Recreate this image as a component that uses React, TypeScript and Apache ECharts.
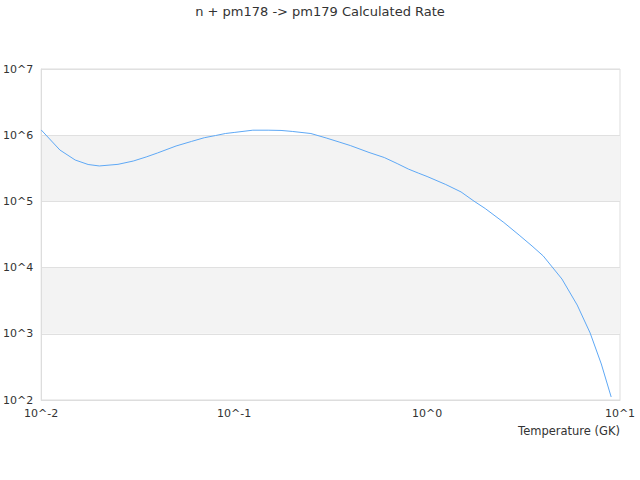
import React, { useEffect, useRef } from "react";
import * as echarts from "echarts";

const titleText = "n + pm178 -> pm179 Calculated Rate";
const xAxisName = "Temperature (GK)";
const temperatures = [
  0.01, 0.0125, 0.015, 0.0175, 0.02, 0.025, 0.03, 0.035, 0.04, 0.05, 0.06, 0.07, 0.08, 0.09,
  0.1, 0.125, 0.15, 0.175, 0.2, 0.25, 0.3, 0.35, 0.4, 0.5, 0.6, 0.7, 0.8, 0.9,
  1, 1.25, 1.5, 1.75, 2, 2.5, 3, 3.5, 4, 5, 6, 7, 8, 9,
];
const rates = [
  1.2e6, 5.97e5, 4.22e5, 3.61e5, 3.43e5, 3.63e5, 4.07e5, 4.69e5, 5.38e5, 6.87e5, 8.04e5, 9.16e5, 9.88e5, 1.06e6,
  1.1e6, 1.19e6, 1.19e6, 1.18e6, 1.14e6, 1.06e6, 9.08e5, 7.89e5, 6.98e5, 5.49e5, 4.6e5, 3.73e5, 3.08e5, 2.68e5,
  2.38e5, 1.8e5, 1.39e5, 1.01e5, 7.82e4, 4.8e4, 3.1e4, 2.12e4, 1.5e4, 6.73e3, 2.72e3, 1.03e3, 350, 111,
];

export default function App() {
  const ref = useRef<HTMLDivElement>(null);
  useEffect(() => {
    if (!ref.current) return;
    const chart = echarts.init(ref.current, null, { renderer: "svg" });
    const expFmt = (v: number) => "10^" + Math.round(Math.log10(v));
    chart.setOption({
      animation: false,
      backgroundColor: "#ffffff",
      textStyle: { fontFamily: "DejaVu Sans" },
      title: {
        text: titleText,
        left: "center",
        top: 0,
        textStyle: { fontSize: 13, fontWeight: "normal", color: "#333333", fontFamily: "DejaVu Sans" },
      },
      grid: {
        left: 40,
        right: 20,
        top: 69,
        bottom: 80,
        show: true,
        borderColor: "#dddddd",
        borderWidth: 1,
        backgroundColor: "transparent",
      },
      xAxis: {
        type: "log",
        logBase: 10,
        min: 0.01,
        max: 10,
        name: xAxisName,
        nameLocation: "end",
        nameGap: 0,
        nameTextStyle: {
          align: "right",
          verticalAlign: "top",
          padding: [25, 0, 0, 0],
          color: "#333333",
          fontSize: 11.5,
        },
        axisLine: { show: true, lineStyle: { color: "#dddddd" } },
        axisTick: { show: false },
        splitLine: { show: false },
        axisLabel: { color: "#333333", fontSize: 11, margin: 8, formatter: expFmt },
      },
      yAxis: {
        type: "log",
        logBase: 10,
        min: 100,
        max: 1e7,
        axisLine: { show: true, lineStyle: { color: "#dddddd" } },
        axisTick: { show: false },
        splitLine: { show: true, lineStyle: { color: "#e0e0e0" } },
        splitArea: { show: true, areaStyle: { color: ["rgba(255,255,255,0)", "#f3f3f3"] } },
        axisLabel: { color: "#333333", fontSize: 11, margin: 8, formatter: expFmt },
      },
      series: [
        {
          type: "line",
          data: temperatures.map((t, i) => [t, rates[i]]),
          showSymbol: false,
          symbol: "none",
          lineStyle: { color: "#5ea8f5", width: 1 },
          itemStyle: { color: "#5ea8f5" },
        },
      ],
    });
    return () => chart.dispose();
  }, []);
  return (
    <div
      ref={ref}
      style={{ position: "fixed", left: 0, top: 0, width: 640, height: 480 }}
    />
  );
}
